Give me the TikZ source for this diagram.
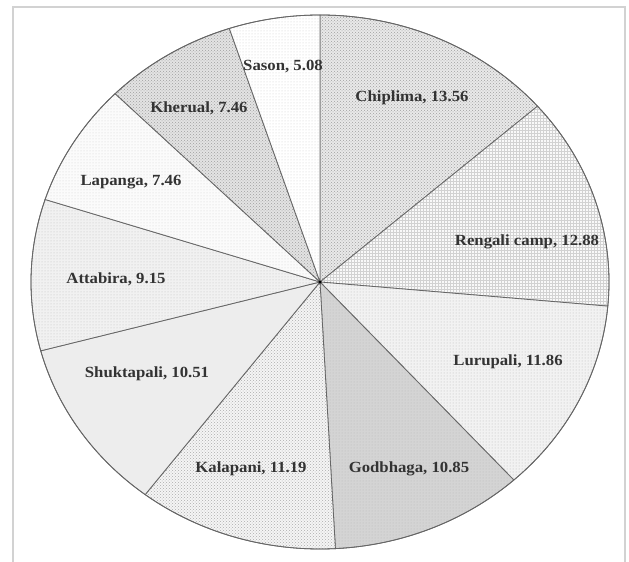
\documentclass[tikz,border=0pt]{standalone}
\usepackage{fontspec}
\setmainfont{Liberation Serif}
\usepackage{tikz}
\usetikzlibrary{patterns, positioning, calc}

\begin{document}
\begin{tikzpicture}[x=1pt, y=1pt,
  slice/.style={draw=black!60, line width=0.8pt},
  lbl/.style={font=\bfseries\fontsize{15.5}{18}\selectfont, text=black!80, inner sep=0pt, xscale=1.08},
  chip/.style={slice, preaction={fill=gray!17}, pattern=crosshatch dots, pattern color=gray!75},
  reng/.style={slice, preaction={fill=gray!5}, pattern=grid, pattern color=gray!35},
  luru/.style={slice, preaction={fill=gray!10}, pattern=dots, pattern color=gray!55},
  godb/.style={slice, preaction={fill=gray!34}, pattern=dots, pattern color=gray!55},
  kala/.style={slice, preaction={fill=gray!8}, pattern=crosshatch dots, pattern color=gray!65},
  shuk/.style={slice, fill=gray!14},
  atta/.style={slice, preaction={fill=gray!11}, pattern=dots, pattern color=gray!50},
  lapa/.style={slice, preaction={fill=gray!3}, pattern=dots, pattern color=gray!35},
  kher/.style={slice, preaction={fill=gray!22}, pattern=crosshatch dots, pattern color=gray!75},
  saso/.style={slice, preaction={fill=white}, pattern=dots, pattern color=gray!40}]
  \useasboundingbox (0,0) rectangle (629,562);
  % frame of the chart area
  \draw[gray!35, line width=1.5pt] (13,-5) -- (13,555) -- (625,555) -- (625,-5);

  \coordinate (ctr) at (320,280);
  % slices, clockwise from the top
  \foreach \a/\b/\s in {90/41.184/chip, 41.184/-5.184/reng, -5.184/-47.88/luru,
      -47.88/-86.94/godb, -86.94/-127.224/kala, -127.224/-165.06/shuk,
      -165.06/-198/atta, -198/-224.856/lapa, -224.856/-251.712/kher, -251.712/-270/saso}
    \draw[\s] (ctr) -- ($(ctr)+(\a:289pt and 267pt)$)
      arc[start angle=\a, end angle=\b, x radius=289pt, y radius=267pt] -- cycle;
  \draw[black!60, line width=0.8pt] (ctr) ellipse[x radius=289pt, y radius=267pt];
  \fill[black] (ctr) circle (1.6pt);

  \node[lbl] (chiplima) at (412,464) {Chiplima, 13.56};
  \node[lbl] (rengali) at (527,320) {Rengali camp, 12.88};
  \node[lbl] (lurupali) at (508,200) {Lurupali, 11.86};
  \node[lbl] (godbhaga) at (409,93) {Godbhaga, 10.85};
  \node[lbl] (kalapani) at (251,93) {Kalapani, 11.19};
  \node[lbl] (shuktapali) at (147,188) {Shuktapali, 10.51};
  \node[lbl] (attabira) at (116,283) {Attabira, 9.15};
  \node[lbl] (lapanga) at (131,380) {Lapanga, 7.46};
  \node[lbl] (kherual) at (199,454) {Kherual, 7.46};
  \node[lbl] (sason) at (283,495) {Sason, 5.08};
\end{tikzpicture}
\end{document}
